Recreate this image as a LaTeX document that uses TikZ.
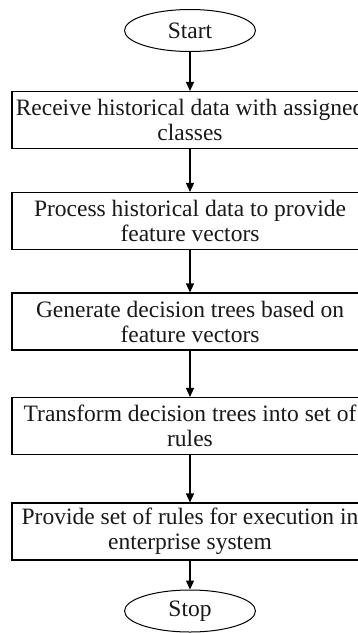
\documentclass[tikz,border=0pt]{standalone}
\usepackage{fontspec}
\setmainfont{Liberation Serif}
\usetikzlibrary{shapes.geometric,arrows.meta}

\tikzset{
  flowtext/.style={font=\fontsize{23.5}{25}\selectfont, text=black!90},
  terminal/.style={flowtext, draw, ellipse, line width=1pt,
    minimum width=131pt, minimum height=42pt, inner sep=0pt},
  stepbox/.style={flowtext, draw, rectangle, line width=1.1pt,
    minimum width=356pt, minimum height=57pt, inner sep=0pt, align=center},
  flowarrow/.style={line width=1.3pt, -{Triangle[length=9pt,width=8pt]}}
}

\begin{document}
\begin{tikzpicture}[x=1pt,y=1pt]
  \useasboundingbox (0,0) rectangle (358,-633);
  \clip (0,0) rectangle (358,-633);
  \fill[white] (0,0) rectangle (358,-633);

  \node[terminal] (start) at (190,-30.5) {Start};
  \node[stepbox] (recv) at (190,-120) {Receive historical data with assigned\\classes};
  \node[stepbox] (proc) at (190,-221) {Process historical data to provide\\feature vectors};
  \node[stepbox] (gen) at (190,-321.5) {Generate decision trees based on\\feature vectors};
  \node[stepbox] (trans) at (190,-426) {Transform decision trees into set of\\rules};
  \node[stepbox] (prov) at (190,-531.5) {Provide set of rules for execution in\\enterprise system};
  \node[terminal] (stop) at (190,-611) {Stop};

  \draw[flowarrow] (start) -- (recv);
  \draw[flowarrow] (recv) -- (proc);
  \draw[flowarrow] (proc) -- (gen);
  \draw[flowarrow] (gen) -- (trans);
  \draw[flowarrow] (trans) -- (prov);
  \draw[flowarrow] (prov) -- (stop);
\end{tikzpicture}
\end{document}
